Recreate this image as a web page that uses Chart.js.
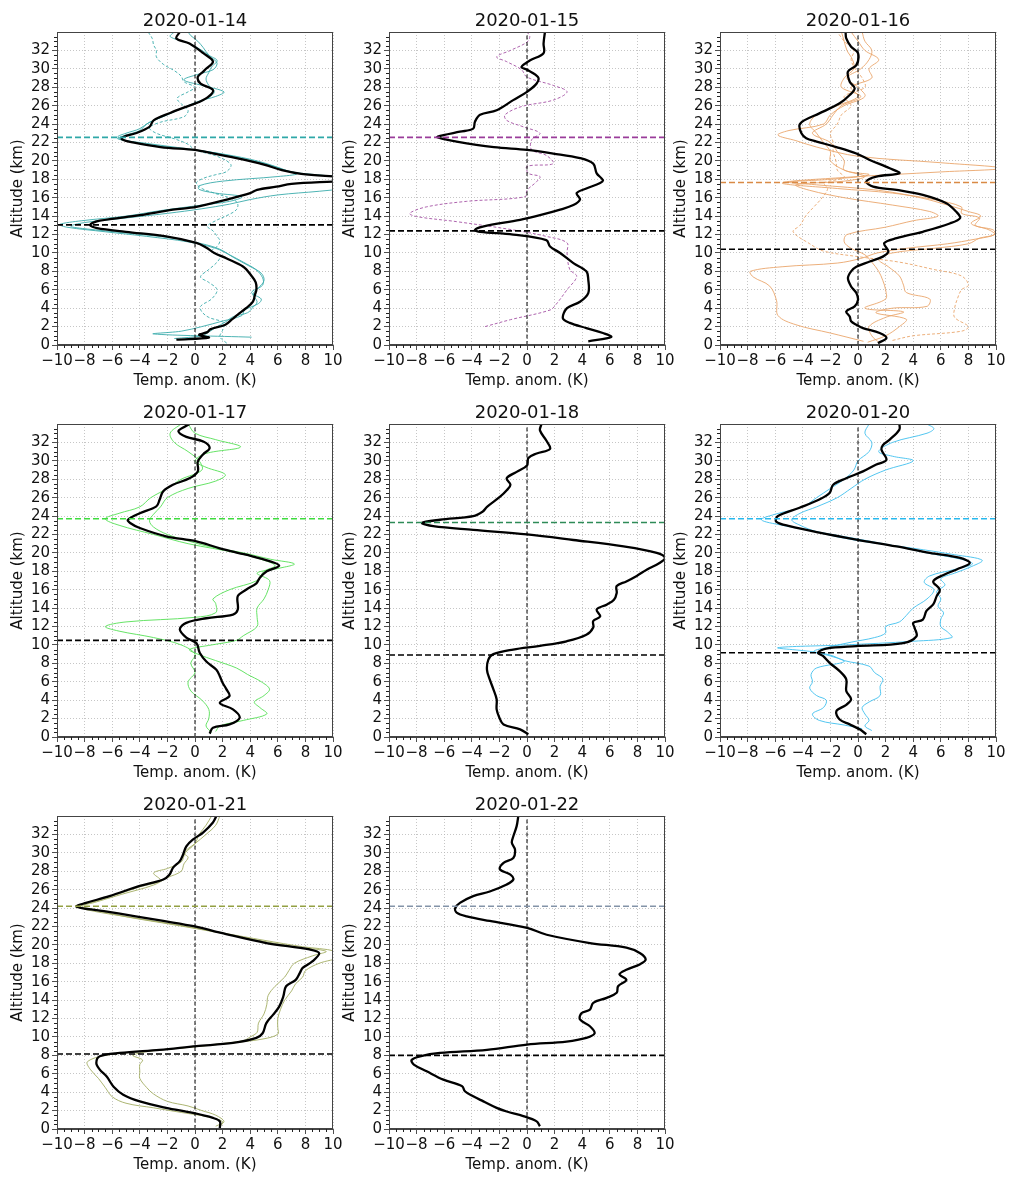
<!DOCTYPE html>
<html>
<head>
<meta charset="utf-8">
<script src="https://cdn.jsdelivr.net/npm/chart.js@4/dist/chart.umd.min.js"></script>
<style>
  body { margin: 0; background: #fff; }
  #wrap { position: relative; width: 1009px; height: 1177px; }
  canvas { position: absolute; }
</style>
</head>
<body>
<div id="wrap"></div>
<script>
// panel dates
const dates = ["2020-01-14","2020-01-15","2020-01-16","2020-01-17","2020-01-18","2020-01-20","2020-01-21","2020-01-22"];
// tropopause altitudes (km): coloured dashed line and black dashed line
const tropoUpper = [22.55, 22.55, 17.65, 23.7, 23.3, 23.7, 24.2, 24.2];
const tropoLower = [13.05, 12.4, 10.4, 10.5, 8.9, 9.15, 8.15, 8.0];

// profiles as [altitude km, temperature anomaly K]
const mean14 = [[0.58,-1.35],[0.8,1.0],[1.1,0.3],[1.4,0.9],[1.7,1.1],[2.2,2.2],[2.8,2.7],[3.3,3.1],[4.0,3.7],[4.7,4.2],[5.5,4.35],[6.0,4.45],[6.8,4.4],[7.5,4.1],[8.5,3.5],[9.4,2.3],[10.0,1.4],[10.6,0.8],[11.1,0.1],[11.8,-2.1],[12.3,-5.0],[12.7,-7.1],[13.05,-7.6],[13.5,-6.9],[14.1,-4.0],[14.7,-1.6],[15.0,0.1],[15.8,2.3],[16.5,4.0],[16.85,4.5],[17.2,5.9],[17.5,7.0],[17.8,10.5],[18.05,12.5],[18.3,10.2],[18.6,7.7],[19.0,6.3],[19.6,5.0],[20.3,3.0],[21.0,0.7],[21.2,0.0],[21.5,-2.5],[22.0,-4.5],[22.35,-5.3],[22.6,-5.2],[23.0,-4.3],[23.7,-3.3],[24.4,-3.0],[25.2,-1.8],[25.9,-0.6],[26.4,0.3],[27.0,1.0],[27.7,1.3],[28.4,0.4],[29.1,0.2],[29.7,0.6],[30.0,0.8],[30.8,1.3],[31.7,0.6],[32.75,-0.4],[33.3,-1.35],[34.0,-1.1]];
const s14a = [[0.85,4.1],[1.2,-3.0],[1.5,-1.0],[2.0,0.5],[2.6,2.0],[3.2,3.4],[3.8,3.6],[4.5,4.6],[5.0,4.8],[5.7,4.1],[6.5,4.9],[7.3,4.9],[8.2,4.4],[9.0,3.5],[9.8,2.5],[10.5,1.5],[11.2,-0.5],[11.8,-3.5],[12.3,-6.5],[12.8,-9.3],[13.1,-9.8],[13.5,-8.2],[14.0,-5.0],[14.6,-2.5],[15.2,0.5],[15.6,2.5],[16.1,3.4],[16.5,1.5],[16.9,0.3],[17.3,0.3],[17.8,2.0],[18.3,6.0],[18.6,7.4],[19.0,6.5],[19.6,5.3],[20.3,3.3],[21.0,0.9],[21.6,-2.5],[22.2,-5.0],[22.6,-5.6],[23.0,-5.0],[23.5,-4.0],[24.2,-3.3],[25.0,-2.0],[25.8,-0.8],[26.5,0.3],[27.0,1.5],[27.5,2.1],[28.2,0.5],[28.8,-0.8],[29.4,0.2],[29.9,1.3],[30.6,1.6],[31.2,1.2],[32.0,0.5],[32.8,-0.5],[33.5,-1.8],[34.0,-1.5]];
const s14b = [[0.7,-1.5],[1.0,0.5],[1.4,1.0],[1.9,1.5],[2.5,2.2],[3.1,2.8],[3.5,3.8],[4.1,4.2],[4.7,4.5],[5.5,4.2],[6.2,4.6],[7.0,5.0],[7.8,4.8],[8.6,3.9],[9.5,2.8],[10.4,1.8],[11.0,0.5],[11.6,-1.5],[12.1,-4.5],[12.6,-7.8],[12.9,-9.0],[13.3,-8.0],[13.8,-5.0],[14.3,-2.0],[14.8,0.5],[15.3,2.5],[15.8,4.0],[16.3,6.0],[16.7,9.0],[17.0,10.8],[17.4,12.0],[18.0,12.0],[18.4,9.5],[18.8,7.0],[19.3,6.0],[20.0,4.5],[20.7,2.2],[21.3,-0.5],[21.9,-3.5],[22.4,-5.6],[22.8,-5.0],[23.3,-4.0],[24.0,-3.5],[24.7,-2.5],[25.5,-1.3],[26.2,0.0],[26.9,1.0],[27.5,1.4],[28.2,1.0],[28.9,0.8],[29.6,1.0],[30.2,1.2],[30.9,1.6],[31.5,1.0],[32.3,0.6],[33.0,0.2],[33.6,-0.3],[34.0,-0.5]];
const s14c = [[0.2,2.3],[0.9,1.8],[1.6,2.0],[2.4,2.1],[3.0,1.0],[3.6,0.5],[4.2,0.4],[5.0,1.2],[6.0,1.6],[6.8,1.0],[7.4,0.4],[8.2,1.0],[9.0,1.6],[9.6,1.8],[10.2,1.2],[10.7,1.6],[11.3,1.8],[11.8,1.6],[12.4,1.3],[12.9,0.9],[13.5,1.5],[14.2,2.5],[14.7,3.0],[15.3,3.1],[15.8,2.8],[16.5,1.4],[17.0,0.5],[17.6,0.1],[18.1,0.6],[18.5,1.5],[18.85,2.3],[19.6,2.6],[20.5,1.6],[21.2,0.0],[21.8,-0.5],[22.4,-1.5],[23.0,-2.8],[23.6,-3.3],[24.2,-2.5],[24.8,-0.8],[25.5,-0.5],[26.2,-1.0],[26.8,-1.3],[27.5,-0.5],[28.0,0.0],[28.6,-0.8],[29.2,-1.0],[29.8,-1.5],[30.5,-2.3],[31.3,-2.8],[32.0,-2.8],[32.6,-3.0],[33.3,-3.1],[34.0,-3.4]];

const mean15 = [[0.4,4.44],[0.87,6.1],[1.3,5.5],[1.84,4.3],[2.4,3.1],[2.9,2.6],[4.0,2.9],[4.7,3.84],[5.64,4.44],[7.1,4.44],[8.0,4.3],[8.9,3.36],[10.0,2.4],[10.7,1.67],[11.4,1.4],[12.0,-1.0],[12.3,-3.4],[12.5,-3.77],[12.87,-3.2],[13.6,-0.5],[14.1,0.94],[14.7,2.4],[15.2,3.36],[15.8,3.84],[16.5,3.6],[17.0,4.3],[17.6,5.3],[17.9,5.5],[18.65,5.05],[19.7,4.8],[20.3,3.84],[20.8,1.9],[21.2,0.0],[21.5,-2.4],[22.1,-5.1],[22.56,-6.5],[22.8,-6.06],[23.17,-4.86],[23.5,-3.9],[24.26,-3.77],[25.0,-3.4],[25.5,-2.2],[26.6,-1.0],[27.5,0.0],[28.4,0.7],[29.1,0.8],[29.9,0.0],[30.2,-0.4],[30.9,0.2],[31.7,1.2],[32.75,1.2],[34.0,1.3]];
const s15a = [[2.0,-3.04],[2.75,-1.2],[3.8,1.67],[4.4,2.1],[6.0,2.9],[7.45,3.6],[8.2,3.1],[10.0,2.9],[11.1,2.9],[11.8,1.4],[12.5,-1.0],[13.4,-5.1],[13.95,-8.0],[14.3,-8.5],[15.0,-7.3],[15.6,-4.4],[16.1,-0.14],[16.8,0.0],[17.75,0.7],[18.3,0.94],[18.65,0.1],[19.4,0.0],[19.7,1.9],[20.6,1.4],[21.2,0.34],[22.3,0.34],[23.0,0.94],[23.7,-0.27],[24.4,-1.47],[25.0,-1.6],[25.9,-0.4],[26.6,1.9],[27.5,2.9],[28.2,1.9],[29.1,0.0],[29.9,-0.4],[30.8,-1.5],[31.3,-2.2],[32.0,-1.2],[32.9,0.0],[33.5,0.2],[34.0,0.0]];

const mean16 = [[0.2,1.45],[0.76,2.06],[1.3,1.57],[1.84,0.36],[2.2,-0.12],[2.57,-0.5],[3.1,-0.6],[3.65,-0.85],[4.2,-0.24],[4.9,0.0],[5.64,-0.12],[6.36,-0.5],[7.27,-0.73],[8.0,-0.5],[8.5,-0.12],[9.07,0.85],[9.6,1.8],[10.16,2.2],[11.06,1.9],[11.6,2.8],[12.3,4.7],[13.2,6.65],[13.8,7.4],[14.5,7.1],[15.4,6.4],[16.3,4.7],[16.85,2.8],[17.2,1.1],[17.75,0.6],[18.3,1.33],[18.65,3.0],[19.2,2.3],[20.1,0.85],[20.8,-0.12],[21.5,-1.57],[22.1,-3.0],[22.45,-3.75],[23.0,-4.1],[23.9,-4.24],[24.4,-3.9],[25.16,-2.8],[26.25,-1.33],[27.15,-0.6],[27.9,-0.24],[28.6,-0.6],[29.7,-0.73],[30.4,-0.12],[31.7,0.0],[32.4,-0.5],[33.3,-0.85],[34.0,-0.9]];
const s16a = [[0.4,0.4],[1.3,-2.0],[2.2,-4.5],[3.2,-5.8],[4.8,-5.9],[6.4,-6.4],[7.4,-7.6],[8.0,-7.8],[8.5,-5.5],[8.9,-1.5],[9.4,0.2],[10.0,1.4],[10.5,3.5],[11.0,6.5],[11.5,8.5],[12.0,9.9],[12.5,9.5],[13.2,8.2],[14.0,8.9],[14.5,8.0],[15.2,6.5],[16.0,4.5],[16.8,1.5],[17.4,-3.0],[17.7,-5.0],[18.0,-2.0],[18.5,0.8],[19.0,-1.0],[20.0,-1.0],[21.0,-1.5],[22.0,-2.0],[23.0,-3.3],[24.0,-2.3],[25.0,-1.8],[26.0,-1.2],[27.0,0.2],[28.0,-1.2],[29.0,-1.0],[30.0,-0.3],[31.0,-0.4],[32.0,-0.8],[33.0,-1.0],[34.0,-1.2]];
const s16b = [[0.3,0.7],[1.0,2.0],[2.0,3.0],[2.8,3.5],[3.5,1.3],[4.0,2.5],[4.2,5.0],[5.0,5.2],[5.7,3.5],[6.5,3.3],[7.5,3.0],[8.5,2.2],[9.3,1.5],[10.0,2.5],[10.5,5.5],[11.0,8.0],[11.6,8.8],[12.0,9.9],[12.5,9.8],[13.0,8.5],[13.8,8.8],[14.3,7.5],[15.0,7.5],[15.8,5.5],[16.5,2.5],[17.0,-1.5],[17.6,-5.5],[18.2,-1.0],[18.8,6.0],[19.2,10.5],[19.8,6.0],[20.5,0.0],[21.5,-3.0],[22.2,-4.5],[22.8,-5.8],[23.3,-5.0],[24.0,-2.5],[25.0,-2.0],[26.0,-1.0],[27.0,0.5],[28.0,0.0],[29.0,-0.8],[30.0,0.2],[31.0,0.8],[32.0,1.0],[33.0,0.5],[34.0,0.3]];
const s16c = [[0.3,1.5],[1.0,1.0],[2.0,0.8],[3.0,2.0],[3.6,3.3],[4.0,0.5],[5.0,2.0],[6.0,2.0],[7.0,1.8],[8.0,1.5],[9.0,1.0],[9.8,0.5],[10.5,-0.5],[11.2,-1.0],[12.0,-0.8],[12.8,2.0],[13.5,4.0],[14.0,5.8],[14.5,5.2],[15.2,2.5],[16.0,-1.0],[16.8,-3.5],[17.4,-4.5],[17.8,-1.0],[18.3,0.5],[19.0,-1.0],[20.0,-2.0],[21.0,-2.0],[22.0,-2.5],[23.0,-3.0],[24.0,-3.5],[25.0,-3.0],[26.0,-1.5],[27.0,0.0],[28.0,-0.5],[29.0,1.0],[30.0,0.8],[31.0,1.5],[32.0,0.5],[33.0,0.0],[34.0,-0.5]];
const s16d = [[0.5,2.5],[1.0,4.0],[1.5,7.5],[2.0,8.0],[3.0,7.0],[4.0,7.0],[5.0,7.2],[6.0,7.5],[6.5,8.0],[7.5,7.5],[8.2,5.5],[9.0,3.0],[9.6,0.0],[10.2,-2.5],[11.0,-3.5],[12.3,-4.7],[13.0,-4.2],[14.0,-3.8],[15.0,-3.2],[16.0,-2.6],[17.0,-2.2],[17.6,-2.5],[18.2,-1.0],[19.0,-1.5],[20.0,-1.6],[21.0,-1.8],[22.0,-1.8],[23.0,-2.0],[24.0,-1.5],[25.0,-1.2],[26.0,-0.5],[27.0,-1.0],[28.0,0.5],[29.0,0.3],[30.0,-0.2],[31.0,-0.5],[32.0,-0.3],[33.0,-1.0],[34.0,-1.5]];

const mean17 = [[0.36,1.06],[1.0,1.3],[1.37,2.5],[2.1,3.24],[3.0,2.75],[3.7,1.8],[4.45,2.5],[5.2,2.27],[5.9,2.0],[6.6,1.8],[7.3,1.55],[8.2,0.82],[9.15,0.34],[10.2,0.1],[10.8,-0.63],[11.7,-1.1],[12.4,-0.63],[12.9,0.82],[13.3,2.75],[13.85,3.1],[15.3,3.1],[16.0,3.7],[16.7,4.45],[17.3,4.7],[18.0,5.2],[18.6,6.1],[19.1,5.4],[19.8,3.7],[20.5,1.8],[21.25,0.1],[21.8,-2.1],[22.7,-4.0],[23.25,-4.7],[23.6,-4.86],[24.3,-4.0],[25.05,-2.8],[25.8,-2.56],[26.7,-2.3],[27.4,-1.6],[28.1,-0.4],[28.85,0.2],[29.9,0.2],[30.7,0.58],[31.4,1.06],[32.1,0.6],[32.6,-0.63],[33.2,-1.2],[33.7,-0.75],[34.0,-0.4]];
const s17a = [[0.6,1.5],[1.2,1.8],[1.8,3.5],[2.5,5.2],[3.2,4.7],[3.8,4.3],[4.5,5.0],[5.2,5.4],[6.0,4.8],[6.8,3.8],[7.5,3.0],[8.3,1.5],[9.0,0.2],[9.5,-0.4],[10.0,1.2],[10.5,3.0],[11.0,3.5],[12.0,4.5],[13.0,4.5],[14.0,4.5],[15.0,5.0],[16.0,5.3],[17.0,5.4],[17.8,4.5],[18.3,6.0],[18.8,7.2],[19.3,5.5],[20.0,3.5],[20.7,1.0],[21.3,-0.5],[22.0,-2.0],[22.8,-3.0],[23.5,-3.3],[24.2,-3.0],[25.0,-2.5],[26.0,-2.0],[27.0,-0.5],[27.8,1.5],[28.5,2.2],[29.3,0.8],[30.0,0.0],[30.8,0.8],[31.5,3.3],[32.3,1.5],[33.0,0.0],[34.0,-0.5]];
const s17b = [[0.5,1.2],[1.2,0.8],[2.0,1.0],[3.0,1.0],[4.0,0.5],[5.0,-0.3],[6.0,-0.5],[7.0,0.0],[8.0,-0.3],[9.0,0.0],[10.0,-1.0],[10.8,-3.0],[11.5,-5.5],[12.0,-6.5],[12.5,-5.0],[13.0,0.0],[13.5,1.5],[14.5,1.5],[15.0,1.3],[16.0,2.5],[17.0,4.5],[18.0,5.0],[18.6,5.8],[19.2,5.0],[20.0,3.0],[21.0,-0.5],[22.0,-3.0],[23.0,-5.5],[23.7,-6.5],[24.3,-5.5],[25.0,-4.0],[26.0,-3.2],[27.0,-2.0],[28.0,-1.0],[29.0,0.5],[30.0,0.3],[31.0,-0.5],[32.0,-1.5],[33.0,-1.8],[34.0,-1.0]];

const mean18 = [[0.3,0.1],[0.83,-0.5],[1.37,-1.7],[2.1,-2.0],[3.0,-2.2],[4.1,-2.2],[5.2,-2.44],[6.25,-2.7],[7.3,-2.9],[8.4,-2.8],[9.0,-2.44],[9.5,-1.0],[9.9,0.94],[10.4,2.87],[11.1,4.3],[11.9,4.8],[12.6,4.8],[13.1,5.3],[13.85,5.05],[14.4,5.8],[14.9,6.3],[15.65,6.5],[16.4,6.5],[16.9,7.2],[17.5,7.95],[18.2,8.7],[18.9,9.6],[19.45,10.0],[20.0,9.4],[20.7,7.0],[21.4,3.36],[22.0,0.0],[22.5,-3.9],[22.9,-6.8],[23.25,-7.6],[23.6,-6.3],[24.0,-3.9],[24.5,-3.2],[25.0,-2.9],[26.1,-1.95],[26.8,-1.47],[27.4,-1.2],[28.1,-1.47],[28.8,-0.75],[29.5,0.0],[30.3,0.1],[30.8,0.7],[31.3,1.67],[32.2,1.4],[33.3,0.94],[34.0,1.05]];

const mean20 = [[0.3,0.6],[0.83,0.12],[1.37,-0.6],[1.9,-1.33],[2.8,-1.57],[3.5,-0.85],[4.1,-0.5],[5.0,-0.85],[6.25,-0.85],[7.15,-1.33],[8.06,-2.06],[8.8,-2.54],[9.15,-2.9],[9.6,-2.3],[9.87,-0.12],[10.2,3.27],[10.95,4.24],[11.86,4.1],[12.4,4.0],[12.76,4.7],[13.7,4.96],[14.4,5.45],[15.3,5.7],[16.0,5.93],[16.9,5.45],[17.6,6.2],[18.2,7.15],[18.9,8.1],[19.45,7.4],[20.0,5.2],[20.7,2.8],[21.45,-0.12],[22.2,-2.8],[22.9,-4.96],[23.4,-5.93],[24.0,-5.8],[24.9,-4.24],[25.8,-2.8],[26.5,-2.06],[27.4,-1.8],[28.1,-0.85],[28.85,0.36],[29.6,1.33],[30.1,2.06],[31.2,1.7],[31.7,1.8],[32.3,2.3],[33.4,3.0],[34.0,3.0]];
const s20a = [[0.7,1.0],[1.2,0.5],[1.8,0.8],[2.5,0.5],[3.2,0.3],[3.8,0.8],[4.5,1.6],[5.5,1.6],[6.3,1.8],[7.0,1.2],[7.7,0.8],[8.3,-1.0],[8.9,-2.0],[9.3,-3.5],[9.7,-5.8],[10.0,-1.0],[10.4,4.0],[10.8,6.8],[11.4,6.5],[12.0,6.0],[12.8,6.0],[13.5,6.2],[14.2,5.8],[15.0,6.0],[15.8,5.7],[16.5,6.3],[17.2,6.0],[17.8,7.0],[18.5,8.2],[19.2,9.0],[19.8,7.0],[20.5,4.0],[21.0,1.5],[21.6,-1.0],[22.3,-3.0],[23.0,-4.2],[23.6,-4.8],[24.3,-4.2],[25.0,-3.0],[26.0,-1.5],[27.0,-0.5],[28.0,0.5],[29.0,2.0],[30.0,4.0],[30.5,2.5],[31.0,1.5],[32.0,2.5],[33.0,5.0],[33.5,5.5],[34.0,5.0]];
const s20b = [[0.9,0.3],[1.3,-1.0],[1.8,-2.8],[2.5,-3.3],[3.2,-2.5],[4.0,-2.3],[4.5,-3.0],[5.3,-3.5],[6.0,-3.3],[6.8,-3.4],[7.5,-3.0],[8.2,-1.0],[8.8,-2.0],[9.3,-3.2],[9.8,-2.0],[10.3,-0.5],[10.8,1.2],[11.3,2.0],[12.0,2.0],[12.5,3.0],[13.2,3.5],[14.0,4.0],[15.0,5.0],[16.0,5.5],[16.8,4.8],[17.5,5.2],[18.2,7.0],[18.8,8.3],[19.3,7.5],[20.0,5.0],[20.8,2.5],[21.5,0.0],[22.3,-3.0],[23.0,-5.5],[23.6,-7.0],[24.2,-6.0],[25.0,-4.0],[26.0,-3.0],[27.0,-2.0],[28.0,-1.0],[29.0,-0.3],[30.0,0.0],[31.0,0.8],[32.0,1.0],[33.0,0.5],[34.0,0.8]];

const mean21 = [[0.1,1.8],[0.83,1.8],[1.2,1.3],[1.74,-0.15],[2.3,-2.1],[3.0,-4.0],[3.73,-5.2],[4.6,-5.9],[5.7,-6.4],[6.45,-6.9],[7.17,-7.15],[7.9,-6.9],[8.26,-5.45],[8.6,-2.56],[9.0,0.1],[9.35,2.75],[9.9,4.45],[10.4,4.9],[11.5,5.17],[12.4,5.65],[13.3,6.1],[14.4,6.4],[15.5,6.6],[16.2,7.3],[16.96,7.6],[17.5,7.8],[18.2,8.5],[19.1,9.0],[19.5,8.3],[20.2,5.17],[21.3,1.9],[22.0,0.0],[22.6,-2.3],[23.1,-4.3],[23.66,-6.6],[24.0,-8.2],[24.2,-8.6],[24.56,-7.9],[25.3,-6.2],[26.4,-4.0],[27.1,-2.3],[27.65,-1.84],[28.37,-1.6],[29.1,-1.1],[29.8,-0.87],[30.7,-0.63],[31.45,-0.14],[32.2,0.58],[33.3,1.3],[34.0,1.55]];
const s21a = [[0.2,1.8],[0.8,2.0],[1.3,1.0],[1.8,-1.0],[2.3,-3.0],[2.8,-5.0],[3.5,-6.0],[4.5,-6.5],[5.5,-7.0],[6.5,-7.6],[7.3,-7.8],[8.0,-6.5],[8.4,-4.0],[8.8,-1.0],[9.2,1.5],[9.6,3.5],[10.0,4.0],[10.5,4.5],[11.5,4.6],[12.5,5.0],[13.5,5.2],[14.5,5.3],[15.5,5.8],[16.5,6.5],[17.2,6.8],[18.0,7.2],[18.8,8.5],[19.3,9.5],[19.8,7.2],[20.5,4.6],[21.3,1.8],[22.2,-1.6],[23.0,-4.8],[23.7,-7.0],[24.2,-8.2],[24.6,-7.5],[25.3,-6.0],[26.3,-4.0],[27.0,-2.5],[27.8,-3.0],[28.3,-2.0],[29.0,-1.0],[30.0,-0.7],[31.0,0.0],[32.0,0.3],[33.0,0.8],[34.0,1.2]];
const s21b = [[0.3,1.5],[0.8,2.1],[1.5,1.5],[2.0,0.5],[2.5,-0.5],[3.0,-2.0],[3.8,-3.0],[4.5,-3.5],[5.5,-4.0],[6.2,-4.0],[7.0,-4.0],[7.5,-3.8],[8.0,-4.5],[8.5,-3.0],[9.0,0.5],[9.4,3.0],[9.8,5.0],[10.3,6.0],[11.0,6.0],[12.0,6.0],[13.0,6.2],[14.0,6.5],[15.0,7.0],[15.8,7.3],[16.5,7.8],[17.2,8.0],[18.0,9.0],[18.7,10.5],[19.3,10.2],[19.8,7.8],[20.5,5.0],[21.3,2.0],[22.2,-1.4],[23.0,-4.7],[23.8,-7.8],[24.2,-8.3],[24.6,-7.3],[25.5,-5.3],[26.5,-3.0],[27.3,-2.0],[28.0,-1.0],[28.8,-0.8],[29.5,-0.5],[30.0,-0.8],[31.0,0.0],[32.0,0.8],[33.0,1.5],[34.0,1.8]];

const mean22 = [[0.3,0.94],[0.83,0.7],[1.4,-0.27],[1.9,-1.47],[2.3,-2.2],[3.0,-3.16],[3.55,-3.9],[4.1,-4.5],[4.64,-4.7],[5.36,-6.06],[6.27,-7.27],[7.0,-8.2],[7.5,-8.36],[7.9,-7.75],[8.26,-6.3],[8.6,-2.9],[9.17,0.0],[9.5,2.87],[9.9,4.3],[10.4,4.9],[11.16,4.56],[11.9,3.84],[12.6,3.96],[12.97,4.56],[13.7,4.8],[14.24,5.77],[14.8,6.5],[15.5,6.6],[16.2,7.2],[16.8,6.7],[17.3,7.2],[17.9,8.2],[18.4,8.6],[19.1,8.2],[19.7,7.2],[20.2,4.56],[21.1,1.43],[21.85,0.0],[22.6,-2.7],[23.1,-4.37],[23.5,-5.1],[24.0,-5.2],[24.56,-4.86],[25.3,-3.9],[25.8,-2.7],[26.56,-1.47],[27.1,-0.99],[27.64,-1.2],[28.2,-1.96],[28.9,-1.7],[29.45,-0.99],[30.36,-0.87],[31.1,-1.1],[31.8,-0.99],[32.9,-0.75],[34.0,-0.63]];

const panelMeans = [mean14, mean15, mean16, mean17, mean18, mean20, mean21, mean22];
const panelSondes = [[s14a, s14b, s14c], [s15a], [s16a, s16b, s16c, s16d], [s17a, s17b], [], [s20a, s20b], [s21a, s21b], []];
const xTicks = [-10, 10, 2];
const yTicks = [0, 32, 2];

// styles
const panelColors = ["#2fa8a8", "#9a3c9a", "#d98a45", "#3fdc3f", "#2e8b57", "#28b9ee", "#93a043", "#8393a8"];
const sondeColors = ["#3aabab", "#a552a5", "#eaa66c", "#55e055", "#2e8b57", "#3fc0ee", "#a3ad62", "#8393a8"];
const sondeDashed = [[false, false, true], [true], [false, false, false, true], [false, false], [], [false, false], [false, false], []];

const pts = arr => arr.map(([a, t]) => ({x: t, y: a}));
const minus = v => String(v).replace('-', '\u2212');

const decor = {
  id: 'decor',
  afterDraw(chart, args, opts) {
    const {ctx, chartArea: a, scales: {x, y}} = chart;
    ctx.save();
    ctx.strokeStyle = '#222';
    ctx.lineWidth = 1;
    ctx.beginPath();
    for (let v = 0; v <= 34; v += 0.5) {
      if (v % 2) {
        const py = Math.round(y.getPixelForValue(v)) + 0.5;
        ctx.moveTo(a.left - 3, py); ctx.lineTo(a.left, py);
      }
    }
    for (let v = -10; v <= 10; v += 0.5) {
      if (v % 2) {
        const px = Math.round(x.getPixelForValue(v)) + 0.5;
        ctx.moveTo(px, a.bottom); ctx.lineTo(px, a.bottom + 3);
      }
    }
    ctx.stroke();
    ctx.strokeStyle = '#444';
    ctx.strokeRect(Math.round(a.left) + 0.5, Math.round(a.top) + 0.5, Math.round(a.width) - 1, Math.round(a.height) - 1);
    ctx.fillStyle = '#111';
    ctx.font = '18px "DejaVu Sans"';
    ctx.textAlign = 'center';
    ctx.fillText(opts.text, (a.left + a.right) / 2, a.top - 6);
    ctx.restore();
  }
};

Chart.defaults.font.family = '"DejaVu Sans", sans-serif';
Chart.defaults.color = '#111';

const wrap = document.getElementById('wrap');
const colLeft = [0, 332, 663];
const rowTop = [0, 392, 784];

dates.forEach((d, i) => {
  const cv = document.createElement('canvas');
  cv.width = 345; cv.height = 392;
  cv.style.left = colLeft[i % 3] + 'px';
  cv.style.top = rowTop[Math.floor(i / 3)] + 'px';
  wrap.appendChild(cv);

  const ds = [
    {data: pts([[tropoLower[i], -10], [tropoLower[i], 10]]), borderColor: '#000', borderWidth: 1.6, borderDash: [6, 3]},
    {data: pts([[tropoUpper[i], -10], [tropoUpper[i], 10]]), borderColor: panelColors[i], borderWidth: 1.6, borderDash: [6, 3]},
    {data: pts(panelMeans[i]), borderColor: '#000', borderWidth: 2.3, tension: 0.35},
    {data: pts([[0, 0], [34, 0]]), borderColor: '#000', borderWidth: 1, borderDash: [4, 2.5]}
  ];
  panelSondes[i].forEach((s, k) => {
    ds.push({data: pts(s), borderColor: sondeColors[i], borderWidth: 0.9, tension: 0.35,
             borderDash: sondeDashed[i][k] ? [3, 2] : []});
  });
  ds.forEach(o => { o.pointRadius = 0; o.fill = false; });

  new Chart(cv, {
    type: 'line',
    data: {datasets: ds},
    plugins: [decor],
    options: {
      responsive: false,
      animation: false,
      layout: {padding: {top: 32, right: 12, bottom: 0, left: 0}},
      plugins: {legend: {display: false}, tooltip: {enabled: false}, decor: {text: d}},
      scales: {
        x: {
          type: 'linear', min: xTicks[0], max: xTicks[1],
          ticks: {stepSize: xTicks[2], padding: 2, font: {size: 15}, maxRotation: 0, autoSkip: false, callback: v => minus(v)},
          grid: {color: '#b8b8b8', lineWidth: 0.8, tickLength: 5, tickColor: '#222'},
          border: {dash: [1, 2], color: '#444'},
          title: {display: true, text: 'Temp. anom. (K)', font: {size: 15}, padding: {top: 0, bottom: 2}},
          afterFit: s => { s.height = 47; }
        },
        y: {
          type: 'linear', min: 0, max: 34,
          ticks: {stepSize: yTicks[2], padding: 2, font: {size: 15}, autoSkip: false},
          afterBuildTicks: s => { s.ticks = s.ticks.filter(t => t.value >= yTicks[0] && t.value <= yTicks[1]); },
          grid: {color: '#b8b8b8', lineWidth: 0.8, tickLength: 5, tickColor: '#222'},
          border: {dash: [1, 2], color: '#444'},
          title: {display: true, text: 'Altitude (km)', font: {size: 15}, padding: {top: 9, bottom: 0}},
          afterFit: s => { s.width = 57; }
        }
      }
    }
  });
});
</script>
</body>
</html>
